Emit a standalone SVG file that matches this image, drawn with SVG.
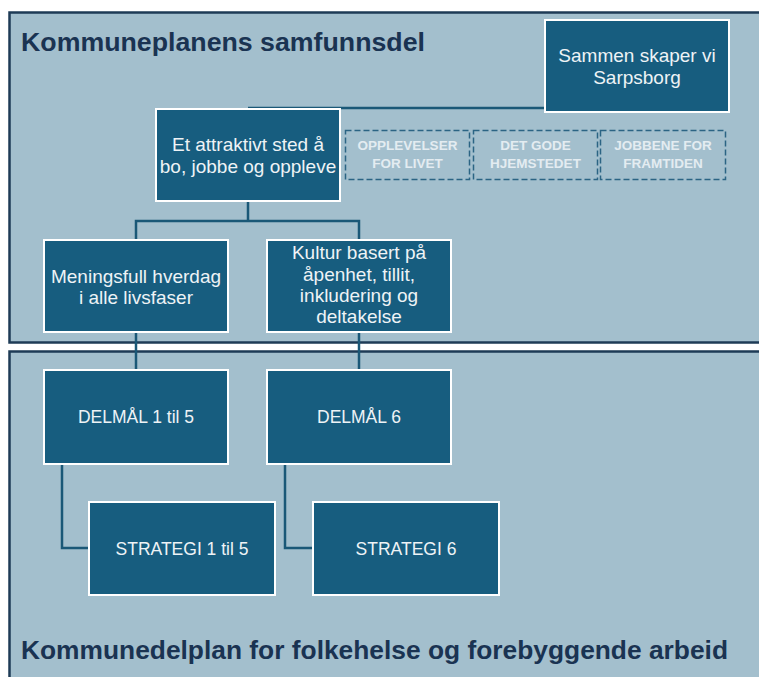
<svg xmlns="http://www.w3.org/2000/svg" width="759" height="677" viewBox="0 0 759 677">
  <style>
    .panel { fill: #a3bfcd; stroke: #1e3b56; stroke-width: 2.5; }
    .title { font-family: "Liberation Sans", Arial, sans-serif; font-weight: bold; font-size: 26px; fill: #1a3352; }
    .box { fill: #175d7f; stroke: #ffffff; stroke-width: 2; }
    .dash { fill: none; stroke: #2b6484; stroke-width: 1.5; stroke-dasharray: 6 3; }
    .lbl { font-family: "Liberation Sans", Arial, sans-serif; font-size: 19px; fill: #eef3f6; text-anchor: middle; }
    .lbl-sm { font-family: "Liberation Sans", Arial, sans-serif; font-size: 17.5px; fill: #eef3f6; text-anchor: middle; }
    .lbl-caps { font-family: "Liberation Sans", Arial, sans-serif; font-weight: bold; font-size: 13.5px; fill: #e3ecf1; text-anchor: middle; }
    .conn { fill: none; stroke: #1a5877; stroke-width: 2.5; }
  </style>

  <rect width="759" height="677" fill="#ffffff"/>

  <!-- Panels -->
  <g id="panel-samfunnsdel">
    <rect class="panel" x="9.5" y="12.5" width="760" height="330"/>
    <text class="title" x="21" y="51" textLength="404" lengthAdjust="spacingAndGlyphs">Kommuneplanens samfunnsdel</text>
  </g>
  <g id="panel-kommunedelplan">
    <rect class="panel" x="9.5" y="351.5" width="760" height="340"/>
    <text class="title" x="21" y="659" textLength="707" lengthAdjust="spacingAndGlyphs">Kommunedelplan for folkehelse og forebyggende arbeid</text>
  </g>

  <!-- Connectors -->
  <g id="connectors">
    <path class="conn" d="M248,108 H545"/>
    <path class="conn" d="M248,201 V221 M136,240 V221 H359 V240"/>
    <path class="conn" d="M136,332 V370"/>
    <path class="conn" d="M359,332 V370"/>
    <path class="conn" d="M62,464 V548 H88"/>
    <path class="conn" d="M285,464 V548 H312"/>
  </g>

  <!-- Nodes -->
  <g id="sammen-skaper">
    <rect class="box" x="545" y="20" width="184" height="92"/>
    <text class="lbl" x="637" y="62">Sammen skaper vi</text>
    <text class="lbl" x="637" y="84">Sarpsborg</text>
  </g>

  <g id="attraktivt-sted">
    <rect class="box" x="156" y="109" width="184" height="92"/>
    <text class="lbl" x="248" y="151">Et attraktivt sted å</text>
    <text class="lbl" x="248" y="173">bo, jobbe og oppleve</text>
  </g>

  <g id="opplevelser">
    <rect class="dash" x="345.5" y="130.5" width="124" height="49"/>
    <text class="lbl-caps" x="407.5" y="150">OPPLEVELSER</text>
    <text class="lbl-caps" x="407.5" y="168">FOR LIVET</text>
  </g>
  <g id="det-gode-hjemstedet">
    <rect class="dash" x="473.5" y="130.5" width="124" height="49"/>
    <text class="lbl-caps" x="535.5" y="150">DET GODE</text>
    <text class="lbl-caps" x="535.5" y="168">HJEMSTEDET</text>
  </g>
  <g id="jobbene">
    <rect class="dash" x="600.5" y="130.5" width="125" height="49"/>
    <text class="lbl-caps" x="663" y="150">JOBBENE FOR</text>
    <text class="lbl-caps" x="663" y="168">FRAMTIDEN</text>
  </g>

  <g id="meningsfull-hverdag">
    <rect class="box" x="44" y="240" width="184" height="92"/>
    <text class="lbl" x="136" y="283">Meningsfull hverdag</text>
    <text class="lbl" x="136" y="304">i alle livsfaser</text>
  </g>

  <g id="kultur">
    <rect class="box" x="267" y="240" width="184" height="92"/>
    <text class="lbl" x="359" y="259">Kultur basert på</text>
    <text class="lbl" x="359" y="281">åpenhet, tillit,</text>
    <text class="lbl" x="359" y="302">inkludering og</text>
    <text class="lbl" x="359" y="323">deltakelse</text>
  </g>

  <g id="delmal-1-5">
    <rect class="box" x="44" y="370" width="184" height="94"/>
    <text class="lbl-sm" x="136" y="423">DELMÅL 1 til 5</text>
  </g>

  <g id="delmal-6">
    <rect class="box" x="267" y="370" width="184" height="94"/>
    <text class="lbl-sm" x="359" y="423">DELMÅL 6</text>
  </g>

  <g id="strategi-1-5">
    <rect class="box" x="89" y="502" width="186" height="93"/>
    <text class="lbl-sm" x="182" y="555">STRATEGI 1 til 5</text>
  </g>

  <g id="strategi-6">
    <rect class="box" x="313" y="502" width="186" height="93"/>
    <text class="lbl-sm" x="406" y="555">STRATEGI 6</text>
  </g>
</svg>
